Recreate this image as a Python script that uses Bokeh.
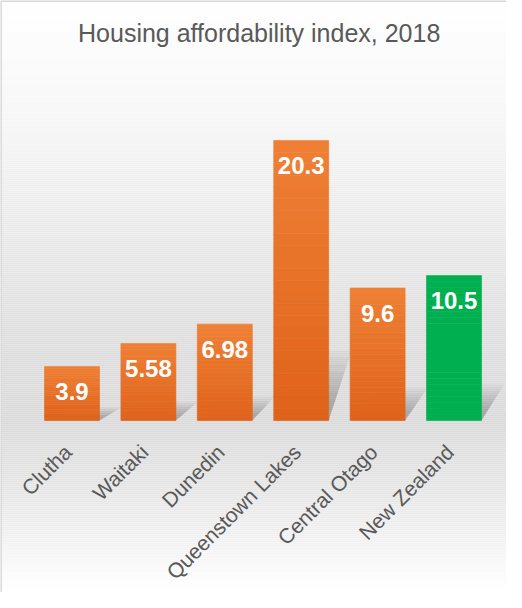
import numpy as np
from math import pi
from bokeh.plotting import figure
from bokeh.models import Range1d, Span
from bokeh.core.properties import value
from bokeh.embed import file_html
from bokeh.resources import INLINE

# ---- data ----
categories = ["Clutha", "Waitaki", "Dunedin", "Queenstown Lakes", "Central Otago", "New Zealand"]
values = [3.9, 5.58, 6.98, 20.3, 9.6, 10.5]
value_labels = ["3.9", "5.58", "6.98", "20.3", "9.6", "10.5"]
highlight = "New Zealand"
title_text = "Housing affordability index, 2018"

# ---- layout ----
W, H = 506, 592
X0, X1 = -0.936, 5.687
Y0, Y1 = -12.48, 30.45
FONT = "Liberation Sans"
TXT = "#595959"

p = figure(width=W, height=H, x_range=Range1d(X0, X1), y_range=Range1d(Y0, Y1),
           output_backend="svg", toolbar_location=None, min_border=0,
           x_axis_location=None, y_axis_location=None)
p.grid.visible = False
p.outline_line_color = None
p.background_fill_color = "white"
p.border_fill_color = "white"

# background gradient (screen-y stops -> grey level)
ppu = H / (Y1 - Y0)
stops_px = [0, 52, 122, 242, 342, 422, 492, 552, 590]
stops_lv = [255, 251, 246, 232, 221, 217, 230, 245, 255]
rows = np.arange(0, H, 2)
lv = np.interp(rows + 1, stops_px, stops_lv).round().astype(int)
tops = Y1 - rows / ppu
bots = Y1 - (rows + 2) / ppu
cols = ["#%02x%02x%02x" % (g, g, g) for g in lv]
p.quad(left=X0, right=X1, top=tops, bottom=bots, fill_color=cols, line_color=None)

# soft shadows behind bars (layered for a blurred look)
idx = np.arange(len(categories))
bw = 0.72
for s in np.linspace(1.0, 0.3, 8):
    xs, ys = [], []
    for i, v in zip(idx, values):
        hs = 0.25 * v * s
        dx = 0.3 * s
        x0, x1 = i - bw / 2, i + bw / 2
        xs.append([x0, x1, x1 + dx, x0 + dx])
        ys.append([0, 0, hs, hs])
    p.patches(xs, ys, fill_color="black", fill_alpha=0.03, line_color=None)

# bars with vertical gradient
n = 24
c_bot = np.array([0xE0, 0x62, 0x1A])
c_top = np.array([0xEE, 0x80, 0x35])
L, R, B, T, C = [], [], [], [], []
for i, (cat, v) in enumerate(zip(categories, values)):
    for k in range(n):
        L.append(i - bw / 2); R.append(i + bw / 2)
        B.append(v * k / n); T.append(v * (k + 1) / n)
        if cat == highlight:
            C.append("#00B050")
        else:
            t = (k + 0.5) / n
            c = (c_bot + (c_top - c_bot) * t).round().astype(int)
            C.append("#%02x%02x%02x" % tuple(c))
p.quad(left=L, right=R, bottom=B, top=T, fill_color=C, line_color=C, line_width=0.6)

# value labels
p.text(x=idx, y=values, text=value_labels, y_offset=25, text_align="center",
       text_baseline="middle", text_color="white", text_font=value(FONT),
       text_font_size="24px", text_font_style="bold")

# category labels
p.text(x=idx, y=[0] * len(idx), text=categories, angle=pi / 4, x_offset=-4, y_offset=28,
       text_align="right", text_baseline="middle", text_color=TXT,
       text_font=value(FONT), text_font_size="21px")

# title
p.text(x=[2.45], y=[Y1 - 32 / ppu], text=[title_text], text_align="center",
       text_baseline="middle", text_color=TXT, text_font=value(FONT), text_font_size="25px")

# chart frame border (left, top)
p.add_layout(Span(location=X0, dimension="height", line_color="#d9d9d9", line_width=3))
p.add_layout(Span(location=Y1, dimension="width", line_color="#d9d9d9", line_width=3))

open("out.html", "w").write(file_html(p, INLINE))
